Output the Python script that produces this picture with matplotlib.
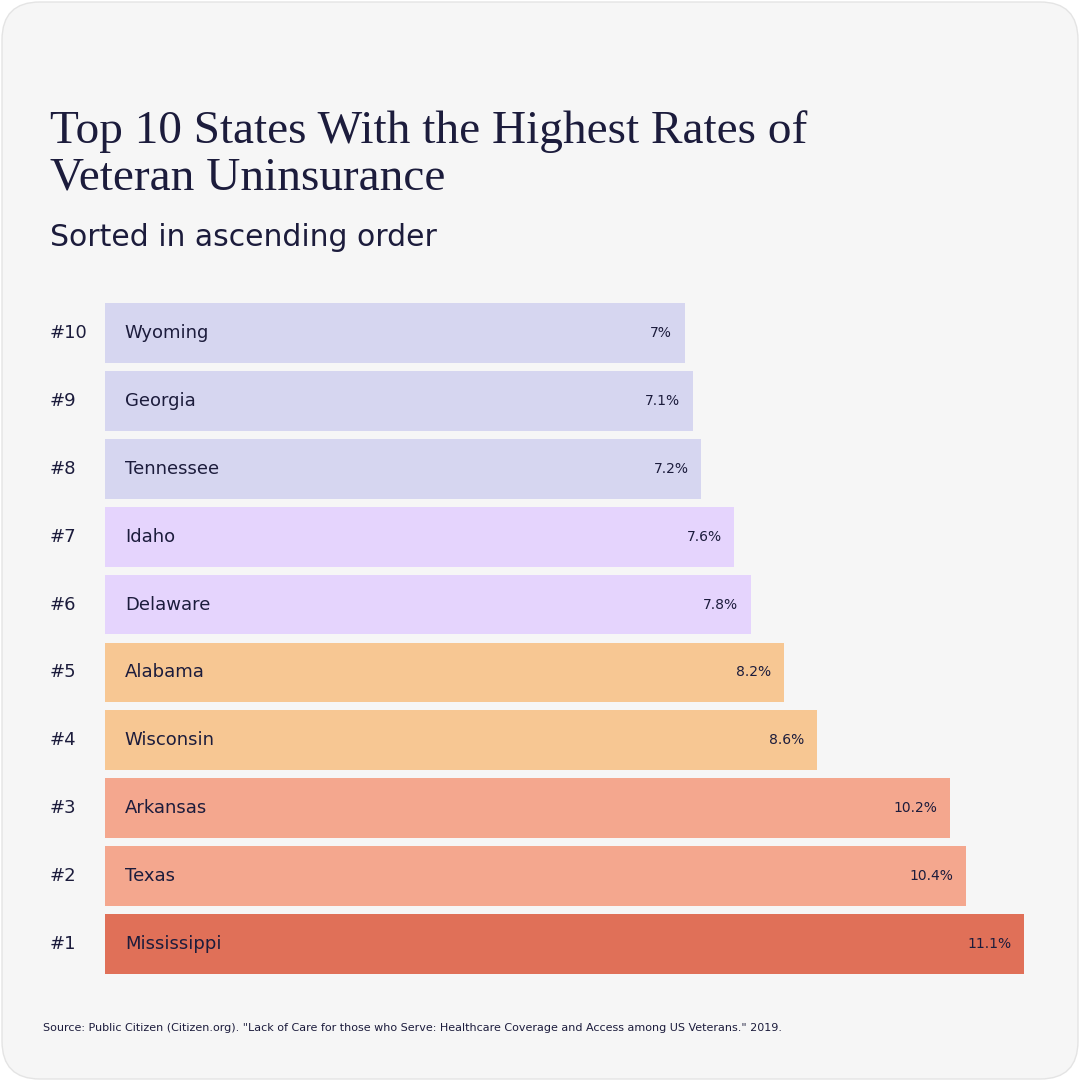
import matplotlib.pyplot as plt
from matplotlib.patches import FancyBboxPatch

states = ['Mississippi', 'Texas', 'Arkansas', 'Wisconsin', 'Alabama',
          'Delaware', 'Idaho', 'Tennessee', 'Georgia', 'Wyoming']
ranks = ['#1', '#2', '#3', '#4', '#5', '#6', '#7', '#8', '#9', '#10']
rates = [11.1, 10.4, 10.2, 8.6, 8.2, 7.8, 7.6, 7.2, 7.1, 7.0]
rate_labels = ['11.1%', '10.4%', '10.2%', '8.6%', '8.2%', '7.8%', '7.6%', '7.2%', '7.1%', '7%']
colors = ['#e07058', '#f4a78e', '#f4a78e', '#f7c793', '#f7c793',
          '#e5d4fd', '#e5d4fd', '#d6d6f0', '#d6d6f0', '#d6d6f0']

navy = '#1c1c3c'
W, H = 1080, 1081
fig = plt.figure(figsize=(W / 100, H / 100), dpi=100)
fig.patch.set_facecolor('white')
bg = FancyBboxPatch((2 / W, 2 / H), 1 - 4 / W, 1 - 4 / H,
                    boxstyle='round,pad=0,rounding_size=0.035',
                    transform=fig.transFigure, facecolor='#f6f6f6',
                    edgecolor='#e4e4e4', linewidth=1, zorder=-5)
fig.patches.append(bg)

# axes placed so rows line up with the reference pixel positions
left, top, bottom = 105, 299, 978
ax = fig.add_axes([left / W, 1 - bottom / H, (W - left) / W, (bottom - top) / H])
ax.set_zorder(2)
ax.set_xlim(0, (W - left) / 82.8)
ax.set_ylim(-0.5, 9.5)
ax.axis('off')

ypos = list(range(len(states)))
ax.barh(ypos, rates, height=0.88, color=colors)
for y, s, r, lab, rk in zip(ypos, states, rates, rate_labels, ranks):
    ax.text(0.24, y, s, va='center', ha='left', fontsize=13, color=navy)
    ax.text(r - 0.15, y, lab, va='center', ha='right', fontsize=10, color=navy)
    ax.text(-55 / 82.8, y, rk, va='center', ha='left', fontsize=13, color=navy,
            clip_on=False)

fig.text(50 / W, 1 - 190 / H, 'Top 10 States With the Highest Rates of\nVeteran Uninsurance',
         fontsize=34, family='Liberation Serif', color=navy, va='baseline',
         linespacing=1.15)
fig.text(50 / W, 1 - 246 / H, 'Sorted in ascending order', fontsize=21.5, color=navy,
         va='baseline')
fig.text(43 / W, 1 - 1031 / H,
         'Source: Public Citizen (Citizen.org). "Lack of Care for those who Serve: '
         'Healthcare Coverage and Access among US Veterans." 2019.',
         fontsize=8, color=navy, va='baseline')

fig.savefig('out.png', dpi=100)
